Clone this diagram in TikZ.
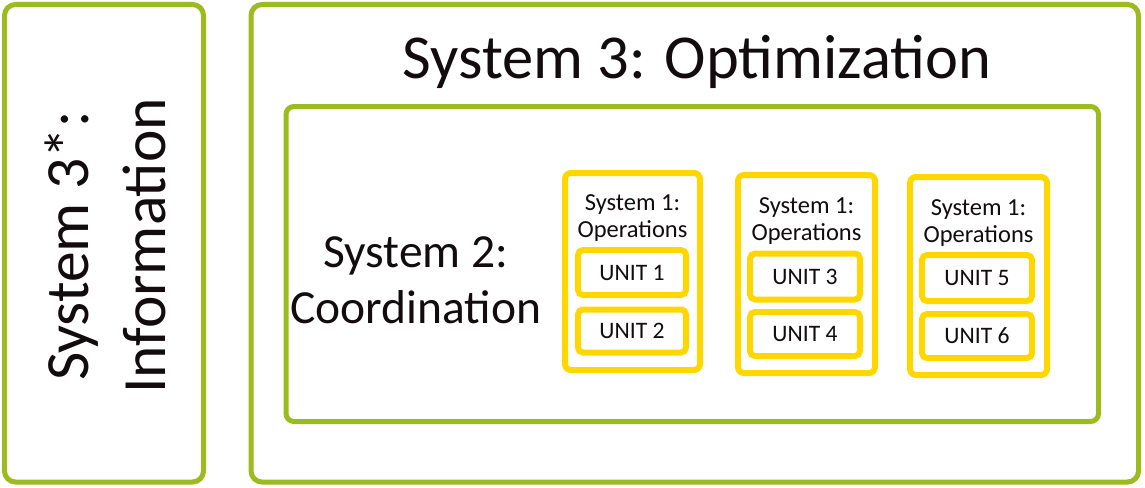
\documentclass[tikz,border=0pt]{standalone}
\usepackage{fontspec}
\setmainfont{Carlito}
\definecolor{vsmgreen}{RGB}{155,187,30}
\definecolor{vsmyellow}{RGB}{255,215,0}
\definecolor{ink}{RGB}{18,12,14}

\tikzset{
  greenbox/.style={draw=vsmgreen, line width=5pt, rounded corners=11pt,
    inner sep=0pt, rectangle},
  innergreen/.style={draw=vsmgreen, line width=5pt, rounded corners=8pt,
    inner sep=0pt, rectangle},
  opsbox/.style={draw=vsmyellow, line width=6pt, rounded corners=6pt,
    inner sep=0pt, rectangle},
  unitbox/.style={draw=vsmyellow, line width=6pt, rounded corners=5pt,
    inner sep=0pt, rectangle, text=ink,
    font=\fontsize{23.6}{27}\selectfont},
  bigtext/.style={text=ink, inner sep=0pt, font=\fontsize{61.5}{77}\selectfont},
  midtext/.style={text=ink, inner sep=0pt, align=center,
    font=\fontsize{47.5}{56}\selectfont},
  opstext/.style={text=ink, inner sep=0pt, align=center,
    font=\fontsize{24.5}{27}\selectfont},
}

\begin{document}
\begin{tikzpicture}[x=1pt,y=-1pt]
\useasboundingbox (0,0) rectangle (1145,487);

% System 3*: Information (left column)
\node[greenbox, minimum width=199pt, minimum height=477.5pt] (s3star) at (104,243.25) {};
\node[bigtext, rotate=90, align=center] (s3startext) at (105,246) {System 3*:\\Information};

% System 3: Optimization (outer frame)
\node[greenbox, minimum width=887.5pt, minimum height=477.5pt] (s3) at (694.75,243.25) {};
\node[bigtext, anchor=base, font=\fontsize{62.5}{77}\selectfont] (s3text) at (697,78) {System 3: Optimization};

% System 2: Coordination
\node[innergreen, minimum width=812.5pt, minimum height=315pt] (s2) at (692.25,264) {};
\node[midtext, anchor=base] (s2text) at (416,323) {System 2:\\Coordination};

% System 1 blocks (last text line sits on the anchor)
\node[opsbox, minimum width=135pt, minimum height=197pt] (ops1) at (632.5,271.5) {};
\node[opstext, anchor=base] (ops1text) at (632.5,237.5) {System 1:\\Operations};
\node[unitbox, minimum width=108pt, minimum height=45pt] (u1) at (632,272.5) {UNIT 1};
\node[unitbox, minimum width=108pt, minimum height=43pt] (u2) at (632,331) {UNIT 2};

\node[opsbox, minimum width=137pt, minimum height=198pt] (ops2) at (806.5,274) {};
\node[opstext, anchor=base] (ops2text) at (806.5,240) {System 1:\\Operations};
\node[unitbox, minimum width=110pt, minimum height=46pt] (u3) at (805,276.5) {UNIT 3};
\node[unitbox, minimum width=110pt, minimum height=44pt] (u4) at (805,334) {UNIT 4};

\node[opsbox, minimum width=137pt, minimum height=198pt] (ops3) at (978.5,276) {};
\node[opstext, anchor=base] (ops3text) at (978.5,242) {System 1:\\Operations};
\node[unitbox, minimum width=110pt, minimum height=46pt] (u5) at (977,278) {UNIT 5};
\node[unitbox, minimum width=110pt, minimum height=44pt] (u6) at (977,336) {UNIT 6};
\end{tikzpicture}
\end{document}
